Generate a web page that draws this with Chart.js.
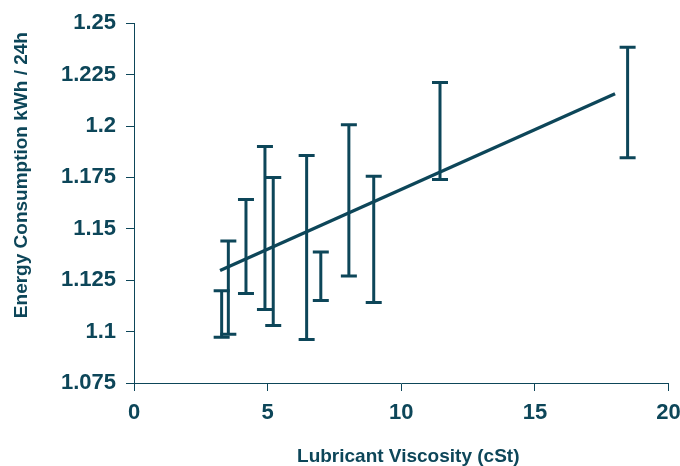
<!DOCTYPE html>
<html>
<head>
<meta charset="utf-8">
<script src="https://cdn.jsdelivr.net/npm/chart.js@4"></script>
<style>
  html, body { margin: 0; padding: 0; background: #fff; }
  #wrap { width: 680px; height: 466px; }
</style>
</head>
<body>
<div id="wrap"><canvas id="c" width="680" height="466"></canvas></div>
<script>
// ---- data ----
const viscosity = [3.28, 3.53, 4.19, 4.90, 5.21, 6.46, 6.99, 8.04, 8.97, 11.45, 18.47];
const energyLow  = [1.0972, 1.0987, 1.1185, 1.1107, 1.1030, 1.0962, 1.1151, 1.1271, 1.1141, 1.1740, 1.1846];
const energyHigh = [1.1199, 1.1441, 1.1643, 1.1900, 1.1750, 1.1856, 1.1387, 1.2006, 1.1755, 1.2212, 1.2383];
const trendX = [3.22, 18.0];
const trendY = [1.1297, 1.2157];
const xTicks = [0, 5, 10, 15, 20];
const yTicks = [1.075, 1.1, 1.125, 1.15, 1.175, 1.2, 1.225, 1.25];
const xTitle = 'Lubricant Viscosity (cSt)';
const yTitle = 'Energy Consumption kWh / 24h';

const COLOR = '#0d4659';
const FONT = "'Liberation Sans', Arial, sans-serif";

// build error-bar segments separated by gaps
const errData = [];
viscosity.forEach((x, i) => {
  errData.push({x: x, y: energyLow[i]});
  errData.push({x: x, y: energyHigh[i]});
  errData.push({x: x, y: null});
});
const trendData = trendX.map((x, i) => ({x: x, y: trendY[i]}));

const titlePlugin = {
  id: 'axisTitles',
  afterDraw(chart) {
    const ctx = chart.ctx;
    const a = chart.chartArea;
    ctx.save();
    ctx.fillStyle = COLOR;
    ctx.font = "bold 19px " + FONT;
    ctx.textAlign = 'center';
    ctx.textBaseline = 'middle';
    // x title
    ctx.fillText(xTitle, (a.left + a.right) / 2 + 7, a.bottom + 74);
    // y title
    ctx.translate(a.left - 112, (a.top + a.bottom) / 2 - 28);
    ctx.rotate(-Math.PI / 2);
    ctx.fillText(yTitle, 0, 0);
    ctx.restore();
  }
};

new Chart(document.getElementById('c'), {
  type: 'line',
  data: {
    datasets: [
      {
        label: 'range',
        data: errData,
        borderColor: COLOR,
        borderWidth: 3,
        spanGaps: false,
        pointStyle: 'line',
        pointRadius: 8,
        pointHoverRadius: 8,
        pointBorderWidth: 3,
        pointBorderColor: COLOR,
        pointBackgroundColor: COLOR,
        tension: 0
      },
      {
        label: 'trend',
        data: trendData,
        borderColor: COLOR,
        borderWidth: 3.3,
        pointRadius: 0,
        tension: 0
      }
    ]
  },
  options: {
    responsive: false,
    animation: false,
    layout: { padding: { top: 21, right: 0, left: 0, bottom: 0 } },
    plugins: { legend: { display: false }, tooltip: { enabled: false }, title: { display: false } },
    scales: {
      x: {
        type: 'linear',
        min: 0, max: 20,
        afterBuildTicks(scale) { scale.ticks = xTicks.map(v => ({value: v})); },
        afterFit(scale) { scale.height = 83; scale.paddingRight = 11.5; },
        border: { display: true, color: COLOR, width: 1 },
        grid: { display: true, drawOnChartArea: false, drawTicks: true, tickLength: 8, color: COLOR, lineWidth: 1 },
        ticks: { color: COLOR, font: { family: FONT, size: 22, weight: 'bold' }, padding: 9, maxRotation: 0,
                 callback: v => String(v) }
      },
      y: {
        type: 'linear',
        min: 1.075, max: 1.25,
        afterBuildTicks(scale) { scale.ticks = yTicks.map(v => ({value: v})); },
        afterFit(scale) { scale.width = 134; },
        border: { display: true, color: COLOR, width: 1 },
        grid: { display: true, drawOnChartArea: false, drawTicks: true, tickLength: 8, color: COLOR, lineWidth: 1 },
        ticks: { color: COLOR, font: { family: FONT, size: 22, weight: 'bold' }, padding: 10,
                 callback: v => String(Number(v.toFixed(3))) }
      }
    }
  },
  plugins: [titlePlugin]
});
</script>
</body>
</html>
